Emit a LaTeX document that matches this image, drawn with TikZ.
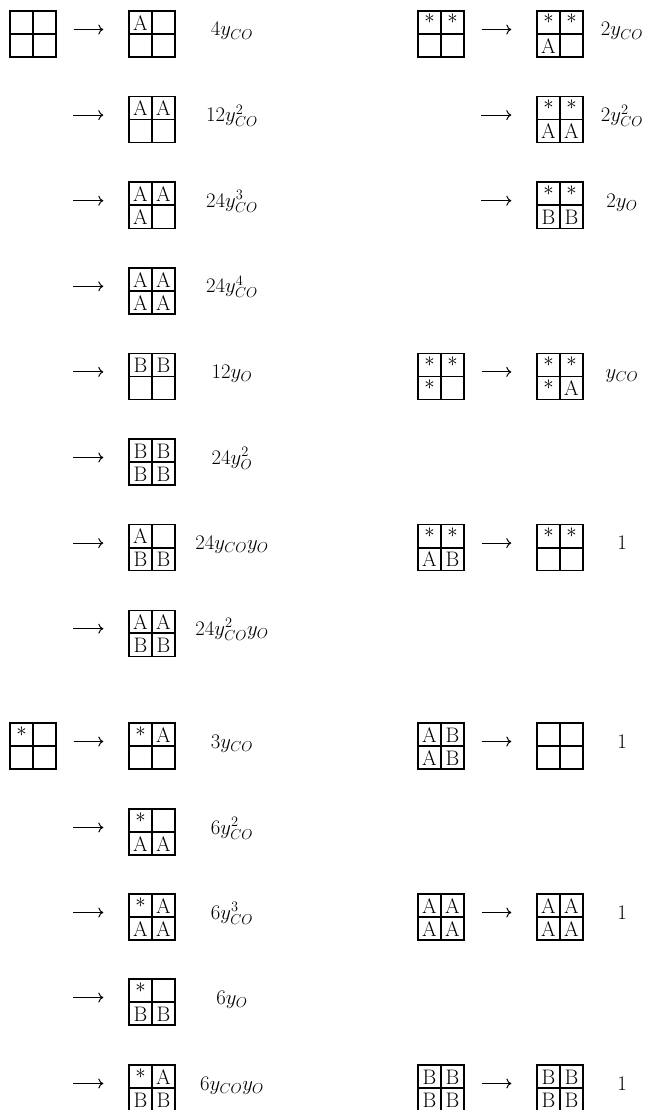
\documentclass[tikz,border=0pt]{standalone}
\usetikzlibrary{arrows.meta}
\tikzset{
  gbox/.style={draw, rectangle, line width=1.4pt, minimum size=46pt, inner sep=0pt},
  gin/.style={line width=1.8pt},
  lt/.style={inner sep=0pt, anchor=base, font=\fontsize{21}{25}\selectfont},
  lab/.style={inner sep=0pt, anchor=base, font=\fontsize{20.5}{24}\selectfont},
  arr/.style={line width=1pt, -{To[length=5pt,width=10pt]}, shorten <=17pt, shorten >=25pt},
}
\def\cS{S}
% one cell: name, x, y(px from top, cell centre), content (A, B, S = star, or empty)
\newcommand\cellc[4]{%
  \def\tmpc{#4}%
  \ifx\tmpc\cS
    \node[lt] (#1) at ({#2},{-(#3)-1.5}) {$\ast$};%
  \else\ifx\tmpc\empty\else
    \node[lt] (#1) at ({#2},{-(#3)-7.7}) {#4};%
  \fi\fi}
% a 2x2 box: name, x, y (px from top), tl, tr, bl, br
\newcommand\gb[7]{%
  \node[gbox] (#1) at (#2,-#3) {};
  \draw[gin] (#1.north) -- (#1.south) (#1.west) -- (#1.east);
  \cellc{#1-tl}{#2-11.5}{#3-11.5}{#4}
  \cellc{#1-tr}{#2+11.5}{#3-11.5}{#5}
  \cellc{#1-bl}{#2-11.5}{#3+11.5}{#6}
  \cellc{#1-br}{#2+11.5}{#3+11.5}{#7}
}
\begin{document}
\begin{tikzpicture}[x=1pt,y=1pt]
\useasboundingbox (0,0) rectangle (647,-1110);
% ---------------- left column ----------------
\gb{s1}{33}{34}{}{}{}{}
\coordinate (s2) at (56,-119.6);
\coordinate (s3) at (56,-205.2);
\coordinate (s4) at (56,-290.8);
\coordinate (s5) at (56,-376.4);
\coordinate (s6) at (56,-462);
\coordinate (s7) at (56,-547.6);
\coordinate (s8) at (56,-633.2);
\gb{s9}{33}{746}{S}{}{}{}
\coordinate (s10) at (56,-832);
\coordinate (s11) at (56,-917);
\coordinate (s12) at (56,-1002);
\coordinate (s13) at (56,-1088);

\gb{t1}{152}{34}{A}{}{}{}
\gb{t2}{152}{119.6}{A}{A}{}{}
\gb{t3}{152}{205.2}{A}{A}{A}{}
\gb{t4}{152}{290.8}{A}{A}{A}{A}
\gb{t5}{152}{376.4}{B}{B}{}{}
\gb{t6}{152}{462}{B}{B}{B}{B}
\gb{t7}{152}{547.6}{A}{}{B}{B}
\gb{t8}{152}{633.2}{A}{A}{B}{B}
\gb{t9}{152}{746}{S}{A}{}{}
\gb{t10}{152}{832}{S}{}{A}{A}
\gb{t11}{152}{917}{S}{A}{A}{A}
\gb{t12}{152}{1002}{S}{}{B}{B}
\gb{t13}{152}{1088}{S}{A}{B}{B}

\draw[arr] ([yshift=4.5pt]s1.east) -- ([yshift=4.5pt]t1.west);
\foreach \i in {2,...,8,10,11,12,13}
  \draw[arr] ([yshift=4.5pt]s\i) -- ([yshift=4.5pt]t\i.west);
\draw[arr] ([yshift=4.5pt]s9.east) -- ([yshift=4.5pt]t9.west);

\node[lab] (l1) at (232,-36) {$4y_{CO}$};
\node[lab] (l2) at (232,-121.6) {$12y_{CO}^2$};
\node[lab] (l3) at (232,-207.2) {$24y_{CO}^3$};
\node[lab] (l4) at (232,-292.8) {$24y_{CO}^4$};
\node[lab] (l5) at (232,-378.4) {$12y_O$};
\node[lab] (l6) at (232,-464) {$24y_O^2$};
\node[lab] (l7) at (232,-549.6) {$24y_{CO}y_O$};
\node[lab] (l8) at (232,-635.2) {$24y_{CO}^2y_O$};
\node[lab] (l9) at (232,-748) {$3y_{CO}$};
\node[lab] (l10) at (232,-834) {$6y_{CO}^2$};
\node[lab] (l11) at (232,-919) {$6y_{CO}^3$};
\node[lab] (l12) at (232,-1004) {$6y_O$};
\node[lab] (l13) at (232,-1090) {$6y_{CO}y_O$};

% ---------------- right column ----------------
\gb{u1}{441}{34}{S}{S}{}{}
\coordinate (u2) at (464,-119.6);
\coordinate (u3) at (464,-205.2);
\gb{u5}{441}{376.4}{S}{S}{S}{}
\gb{u7}{441}{547.6}{S}{S}{A}{B}
\gb{u9}{441}{746}{A}{B}{A}{B}
\gb{u11}{441}{917}{A}{A}{A}{A}
\gb{u13}{441}{1088}{B}{B}{B}{B}

\gb{v1}{560}{34}{S}{S}{A}{}
\gb{v2}{560}{119.6}{S}{S}{A}{A}
\gb{v3}{560}{205.2}{S}{S}{B}{B}
\gb{v5}{560}{376.4}{S}{S}{S}{A}
\gb{v7}{560}{547.6}{S}{S}{}{}
\gb{v9}{560}{746}{}{}{}{}
\gb{v11}{560}{917}{A}{A}{A}{A}
\gb{v13}{560}{1088}{B}{B}{B}{B}

\foreach \i in {1,5,7,9,11,13}
  \draw[arr] ([yshift=4.5pt]u\i.east) -- ([yshift=4.5pt]v\i.west);
\foreach \i in {2,3}
  \draw[arr] ([yshift=4.5pt]u\i) -- ([yshift=4.5pt]v\i.west);

\node[lab] (r1) at (622,-36) {$2y_{CO}$};
\node[lab] (r2) at (622,-121.6) {$2y_{CO}^2$};
\node[lab] (r3) at (622,-207.2) {$2y_O$};
\node[lab] (r5) at (622,-378.4) {$y_{CO}$};
\node[lab] (r7) at (622,-549.6) {$1$};
\node[lab] (r9) at (622,-748) {$1$};
\node[lab] (r11) at (622,-919) {$1$};
\node[lab] (r13) at (622,-1090) {$1$};
\end{tikzpicture}
\end{document}
